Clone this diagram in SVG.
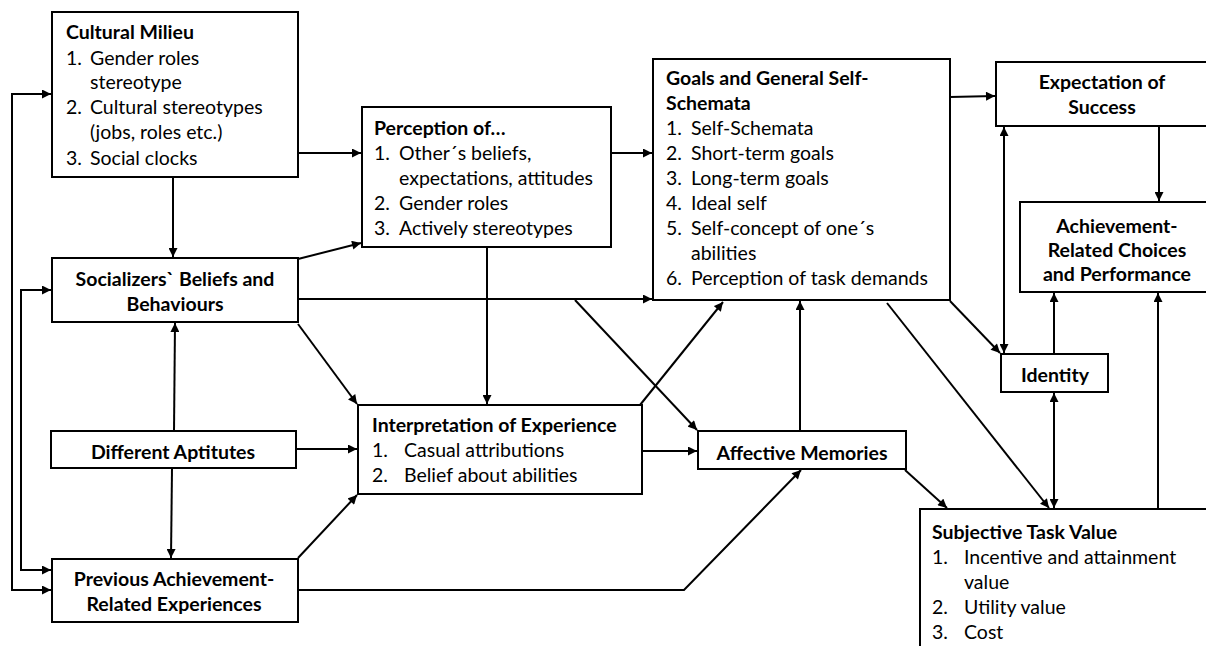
<svg xmlns="http://www.w3.org/2000/svg" width="1206" height="646" viewBox="0 0 1206 646">
<style>
.box{fill:#fff;stroke:#000;stroke-width:2}
.t{font-family:Lato,"Open Sans","Liberation Sans",sans-serif;font-size:19.5px;fill:#000}
.b{font-weight:bold}
.c{text-anchor:middle}
.cn path{fill:none;stroke:#000;stroke-width:2}
</style>
<defs>
<marker id="a" viewBox="0 0 10 10" refX="10" refY="5" markerWidth="10" markerHeight="9" markerUnits="userSpaceOnUse" orient="auto-start-reverse">
<path d="M0,0 L10,5 L0,10 z" fill="#000"/>
</marker>
</defs>
<rect width="1206" height="646" fill="#fff"/>

<g id="cultural">
<rect class="box" x="52" y="12" width="246" height="165"/>
<text class="t b" x="66" y="39">Cultural Milieu</text>
<text class="t" x="66" y="65">1.</text><text class="t" x="90" y="65">Gender roles</text>
<text class="t" x="90" y="89">stereotype</text>
<text class="t" x="66" y="114">2.</text><text class="t" x="90" y="114">Cultural stereotypes</text>
<text class="t" x="90" y="139">(jobs, roles etc.)</text>
<text class="t" x="66" y="165">3.</text><text class="t" x="90" y="165">Social clocks</text>
</g>

<g id="socializers">
<rect class="box" x="52" y="258" width="246" height="64"/>
<text class="t b c" x="175" y="286">Socializers` Beliefs and</text>
<text class="t b c" x="175" y="311">Behaviours</text>
</g>

<g id="aptitudes">
<rect class="box" x="51" y="431" width="245" height="37"/>
<text class="t b c" x="173" y="459">Different Aptitutes</text>
</g>

<g id="previous">
<rect class="box" x="52" y="559" width="246" height="63"/>
<text class="t b c" x="174" y="586">Previous Achievement-</text>
<text class="t b c" x="174" y="611">Related Experiences</text>
</g>

<g id="perception">
<rect class="box" x="362" y="107" width="249" height="140"/>
<text class="t b" x="374" y="135">Perception of…</text>
<text class="t" x="374" y="160">1.</text><text class="t" x="399" y="160">Other´s beliefs,</text>
<text class="t" x="399" y="185">expectations, attitudes</text>
<text class="t" x="374" y="210">2.</text><text class="t" x="399" y="210">Gender roles</text>
<text class="t" x="374" y="235">3.</text><text class="t" x="399" y="235">Actively stereotypes</text>
</g>

<g id="interpretation">
<rect class="box" x="358" y="405" width="284" height="89"/>
<text class="t b" x="372" y="432">Interpretation of Experience</text>
<text class="t" x="372" y="457">1.</text><text class="t" x="404" y="457">Casual attributions</text>
<text class="t" x="372" y="482">2.</text><text class="t" x="404" y="482">Belief about abilities</text>
</g>

<g id="goals">
<rect class="box" x="653" y="59" width="297" height="241"/>
<text class="t b" x="666" y="85">Goals and General Self-</text>
<text class="t b" x="666" y="110">Schemata</text>
<text class="t" x="666" y="135">1.</text><text class="t" x="691" y="135">Self-Schemata</text>
<text class="t" x="666" y="160">2.</text><text class="t" x="691" y="160">Short-term goals</text>
<text class="t" x="666" y="185">3.</text><text class="t" x="691" y="185">Long-term goals</text>
<text class="t" x="666" y="210">4.</text><text class="t" x="691" y="210">Ideal self</text>
<text class="t" x="666" y="235">5.</text><text class="t" x="691" y="235">Self-concept of one´s</text>
<text class="t" x="691" y="260">abilities</text>
<text class="t" x="666" y="285">6.</text><text class="t" x="691" y="285">Perception of task demands</text>
</g>

<g id="affective">
<rect class="box" x="698" y="431" width="208" height="38"/>
<text class="t b c" x="802" y="460">Affective Memories</text>
</g>

<g id="expectation">
<rect class="box" x="996" y="62" width="216" height="64"/>
<text class="t b c" x="1102" y="89">Expectation of</text>
<text class="t b c" x="1102" y="114">Success</text>
</g>

<g id="achievement">
<rect class="box" x="1020" y="202" width="192" height="90"/>
<text class="t b c" x="1117" y="233">Achievement-</text>
<text class="t b c" x="1117" y="257">Related Choices</text>
<text class="t b c" x="1117" y="281">and Performance</text>
</g>

<g id="identity">
<rect class="box" x="1001" y="354" width="107" height="38"/>
<text class="t b c" x="1055" y="382">Identity</text>
</g>

<g id="subjective">
<rect class="box" x="920" y="509" width="292" height="145"/>
<text class="t b" x="932" y="539">Subjective Task Value</text>
<text class="t" x="932" y="564">1.</text><text class="t" x="964" y="564">Incentive and attainment</text>
<text class="t" x="964" y="589">value</text>
<text class="t" x="932" y="614">2.</text><text class="t" x="964" y="614">Utility value</text>
<text class="t" x="932" y="639">3.</text><text class="t" x="964" y="639">Cost</text>
</g>

<g id="connectors" class="cn">
<path d="M51,590 L12,590 L12,94 L51,94" marker-start="url(#a)" marker-end="url(#a)"/>
<path d="M51,290 L21,290 L21,570 L51,570" marker-start="url(#a)" marker-end="url(#a)"/>
<path d="M173,177 L173,257" marker-end="url(#a)"/>
<path d="M298,153 L361,153" marker-end="url(#a)"/>
<path d="M611,153 L652,153" marker-end="url(#a)"/>
<path d="M298,259 L361,243" marker-end="url(#a)"/>
<path d="M298,299 L652,299" marker-end="url(#a)"/>
<path d="M298,324 L357,404" marker-end="url(#a)"/>
<path d="M575,300 L697,430" marker-end="url(#a)"/>
<path d="M174,431 L175,323" marker-end="url(#a)"/>
<path d="M172,468 L171,558" marker-end="url(#a)"/>
<path d="M296,449 L357,449" marker-end="url(#a)"/>
<path d="M298,558 L357,495" marker-end="url(#a)"/>
<path d="M298,590 L684,590 L801,470" marker-end="url(#a)"/>
<path d="M487,247 L487,404" marker-end="url(#a)"/>
<path d="M640,405 L723,302" marker-end="url(#a)"/>
<path d="M642,451 L697,451" marker-end="url(#a)"/>
<path d="M800,431 L800,301" marker-end="url(#a)"/>
<path d="M950,97 L995,96" marker-end="url(#a)"/>
<path d="M950,301 L1000,353" marker-end="url(#a)"/>
<path d="M887,303 L1049,508" marker-end="url(#a)"/>
<path d="M905,470 L947,508" marker-end="url(#a)"/>
<path d="M1004,127 L1004,353" marker-start="url(#a)" marker-end="url(#a)"/>
<path d="M1159,126 L1159,201" marker-end="url(#a)"/>
<path d="M1054,354 L1054,293" marker-end="url(#a)"/>
<path d="M1054,393 L1054,508" marker-start="url(#a)" marker-end="url(#a)"/>
<path d="M1158,509 L1158,293" marker-end="url(#a)"/>
</g>
</svg>
